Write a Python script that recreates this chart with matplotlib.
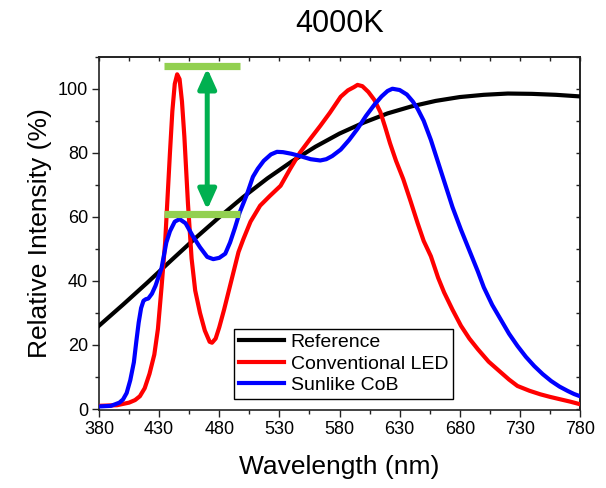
import matplotlib
matplotlib.use("Agg")
import matplotlib.pyplot as plt
from matplotlib.ticker import FixedLocator

plt.rcParams['font.family'] = ['Liberation Sans', 'DejaVu Sans']

x_ticks = [380, 430, 480, 530, 580, 630, 680, 730, 780]
x_minor = [405, 455, 505, 555, 605, 655, 705, 755]
y_ticks = [0, 20, 40, 60, 80, 100]
y_minor = [10, 30, 50, 70, 90, 110]

# Reference (blackbody-like) curve
ref_wl = [380, 400, 420, 440, 460, 480, 500, 520, 540, 560, 580, 600, 620,
          640, 660, 680, 700, 720, 740, 760, 780]
ref_val = [26.0, 32.6, 39.4, 46.4, 53.3, 59.9, 66.2, 72.0, 77.2, 81.9, 86.0,
           89.4, 92.3, 94.5, 96.2, 97.4, 98.1, 98.5, 98.4, 98.1, 97.6]

# Conventional LED
led_wl = [380, 395, 405, 410, 414, 418, 422, 426, 429, 432, 435, 439, 441, 443,
          445, 447, 449, 451, 454, 457, 460, 464, 468, 472, 474, 477, 480, 484,
          488, 492, 496, 500, 506, 514, 522, 531, 539, 547, 556, 564, 572, 581,
          587, 592, 595, 599, 604, 609, 614, 618, 622, 627, 633, 639, 645, 650,
          656, 662, 667, 674, 681, 688, 695, 704, 714, 721, 728, 738, 747, 755,
          764, 772, 780]
led_val = [1.0, 1.2, 2.0, 2.8, 4.0, 6.5, 11, 17, 25, 38, 52, 80, 93, 101.5,
           104.5, 103, 96, 85, 64, 47, 37, 30, 24.5, 21, 20.7, 22, 25.5, 31,
           37, 43, 49, 53, 58.5, 63.5, 66.5, 69.7, 75, 80, 84.5, 88.4, 92.5, 97.5,
           99.5, 100.5, 101.2, 100.8, 99, 96.5, 92.7, 88, 83, 77.5, 71.8, 65, 58, 52.5,
           47.7, 41, 36.4, 31, 26, 22, 18.7, 14.8, 11.5, 9.2, 7.2, 5.7, 4.6, 3.8,
           3.0, 2.3, 1.5]

# Sunlike CoB
sun_wl = [380, 390, 397, 400, 403, 406, 409, 411, 413, 415, 417, 419, 421, 424,
          427, 432, 436, 439, 443, 447, 452, 458, 464, 470, 475, 480, 485, 489,
          493, 497, 503, 508, 512, 517, 523, 528, 533, 540, 547, 556, 564, 569,
          574, 581, 588, 595, 602, 609, 615, 620, 624, 630, 636, 641, 645, 650,
          656, 662, 668, 674, 681, 688, 695, 700, 707, 714, 721, 728, 735, 742,
          749, 756, 763, 770, 775, 780]
sun_val = [0.8, 1.0, 2.0, 3.0, 5.0, 9.0, 14.6, 21, 27, 31.5, 33.8, 34.3, 34.5, 36,
           38.5, 44, 52, 55.5, 58.5, 59.3, 58, 54, 50.5, 47.5, 46.8, 47.2, 48.5, 52,
           56.5, 61.4, 67, 72.5, 75, 77.5, 79.5, 80.3, 80.2, 79.7, 79, 78, 77.6, 78,
           79, 81, 84, 87.5, 91.5, 95, 97.6, 99.3, 100, 99.6, 98.2, 96, 93.7, 90,
           84, 77, 70, 63, 56, 49.5, 43, 38, 32.5, 28, 23.5, 19.7, 16.3, 13.4,
           10.9, 8.75, 7.0, 5.6, 4.7, 4.0]

# Annotation levels
bar_x = [434, 497]
bar_levels = [107, 61]
arrow_x = 470

W, H = 606, 488
fig = plt.figure(figsize=(W / 100, H / 100), dpi=100)
ax = fig.add_axes([99 / W, 1 - 410 / H, (580 - 99) / W, (410 - 56.7) / H])

ax.plot(ref_wl, ref_val, color='black', lw=3, label='Reference', zorder=3)
ax.plot(led_wl, led_val, color='#FF0000', lw=3, label='Conventional LED', zorder=3)
ax.plot(sun_wl, sun_val, color='#0000FF', lw=3, label='Sunlike CoB', zorder=4)

for lvl in bar_levels:
    ax.plot(bar_x, [lvl, lvl], color='#92D050', lw=5.2, solid_capstyle='butt', zorder=5)

ax.annotate('', xy=(arrow_x, bar_levels[0] - 0.6), xytext=(arrow_x, bar_levels[1] + 1.2),
            arrowprops=dict(arrowstyle='<|-|>,head_length=1.0,head_width=0.45',
                            color='#00B050', lw=3.6, mutation_scale=12,
                            shrinkA=0, shrinkB=0), zorder=6)

ax.set_xlim(380, 780)
ax.set_ylim(-0.3, 110)
ax.xaxis.set_major_locator(FixedLocator(x_ticks))
ax.xaxis.set_minor_locator(FixedLocator(x_minor))
ax.yaxis.set_major_locator(FixedLocator(y_ticks))
ax.yaxis.set_minor_locator(FixedLocator(y_minor))
ax.tick_params(which='major', direction='out', length=5, width=1.0, labelsize=13, pad=3,
               colors='#222222', labelcolor='black')
ax.tick_params(which='minor', direction='out', length=3, width=1.0, colors='#222222')
for s in ax.spines.values():
    s.set_linewidth(1.2)
    s.set_color('#222222')

top = ax.secondary_xaxis('top')
top.xaxis.set_major_locator(FixedLocator(x_ticks))
top.xaxis.set_minor_locator(FixedLocator(x_minor))
top.tick_params(which='both', direction='in', length=3, width=1.0, labeltop=False, colors='#222222')
right = ax.secondary_yaxis('right')
right.yaxis.set_major_locator(FixedLocator(y_ticks))
right.yaxis.set_minor_locator(FixedLocator(y_minor))
right.tick_params(which='both', direction='in', length=3, width=1.0, labelright=False, colors='#222222')
for sec in (top, right):
    for s in sec.spines.values():
        s.set_linewidth(1.2)
        s.set_color('#222222')

ax.set_xlabel('Wavelength (nm)', fontsize=19, labelpad=12)
ax.set_ylabel('Relative Intensity (%)', fontsize=19, labelpad=4)
ax.set_title('4000K', fontsize=22, pad=18)

leg = ax.legend(loc='lower left', bbox_to_anchor=(0.281, 0.031), borderaxespad=0,
                fontsize=14, handlelength=2.3, handletextpad=0.35, labelspacing=0.2,
                borderpad=0.25, fancybox=False, edgecolor='black', framealpha=1)
leg.get_frame().set_linewidth(1.0)

fig.savefig('out.png', dpi=100)
